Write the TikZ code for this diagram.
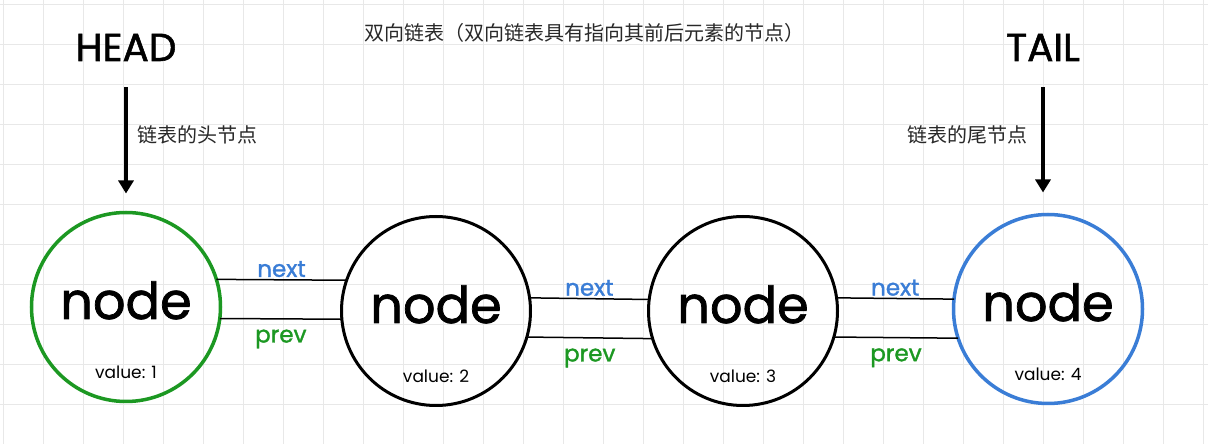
\documentclass[tikz,border=0pt]{standalone}
\usepackage{fontspec}
\setmainfont{Poppins}
\newfontfamily\roundfont{Poppins}[FakeBold=1.4]
\newfontfamily\cjk{Noto Sans CJK SC}
\usetikzlibrary{positioning, arrows.meta}
\definecolor{headgreen}{RGB}{28,152,34}
\definecolor{tailblue}{RGB}{58,125,214}
\definecolor{notegray}{RGB}{40,40,40}
\definecolor{gridgray}{RGB}{232,232,232}

\begin{document}
\begin{tikzpicture}[x=1pt, y=1pt, >={Triangle[width=15pt, length=13pt]}, on grid,
    listnode/.style={circle, draw, line width=3pt, minimum size=189pt, inner sep=0pt, outer sep=0pt},
    nodelbl/.style={font=\roundfont\fontsize{51}{51}\selectfont, anchor=base, inner sep=0pt},
    vallbl/.style={font=\fontsize{17}{17}\selectfont, anchor=base, inner sep=0pt},
    link/.style={line width=1.5pt},
    nexttxt/.style={text=tailblue, font=\roundfont\fontsize{23}{23}\selectfont, inner sep=0pt},
    prevtxt/.style={text=headgreen, font=\roundfont\fontsize{23}{23}\selectfont, inner sep=0pt},
    ptr/.style={->, line width=3.5pt},
    endlbl/.style={font=\roundfont\fontsize{39}{39}\selectfont, anchor=base, inner sep=0pt},
    notetxt/.style={text=notegray, font=\cjk\fontsize{20}{20}\selectfont, inner sep=0pt}]
  % paper and grid
  \fill[white] (0,0) rectangle (1208,444);
  \useasboundingbox (0,0) rectangle (1208,444);
  \draw[gridgray, line width=1pt, shift={(3,-1)}] (-3,1) grid[step=40] (1205,445);

  \node[notetxt] (title) at (584,411) {双向链表（双向链表具有指向其前后元素的节点）};

  % the four list nodes
  \node[listnode, draw=headgreen, line width=3.5pt] (n1) at (126,137) {};
  \node[listnode, right=310pt of n1, yshift=-4pt] (n2) {};
  \node[listnode, right=307pt of n2] (n3) {};
  \node[listnode, draw=tailblue, line width=3.5pt, right=305pt of n3, yshift=2pt] (n4) {};
  \foreach \i in {1,...,4} {
    \node[nodelbl] (t\i) at ([yshift=-12pt]n\i.center) {node};
    \node[vallbl] (v\i) at ([yshift=-72pt]n\i.center) {value: \i};
  }

  % next / prev links
  \draw[link] (n1.17) -- (n2.161) node[nexttxt, midway, above=2pt] (x1) {next};
  \draw[link] (n1.353) -- (n2.185) node[prevtxt, midway, below=10pt] (p1) {prev};
  \draw[link] (n2.8) -- (n3.173) node[nexttxt, midway, above=2pt] (x2) {next};
  \draw[link] (n2.344) -- (n3.197) node[prevtxt, midway, below=10pt] (p2) {prev};
  \draw[link] (n3.8) -- (n4.174) node[nexttxt, midway, above=2pt] (x3) {next};
  \draw[link] (n3.344) -- (n4.198) node[prevtxt, midway, below=10pt] (p3) {prev};

  % head and tail pointers
  \node[endlbl] (head) at (126,383) {HEAD};
  \node[endlbl] (tail) at (1043,383) {TAIL};
  \draw[ptr, shorten <=26pt, shorten >=19pt] (head.south) -- (head.south |- n1.north);
  \draw[ptr, shorten <=26pt, shorten >=22pt] (tail.south) -- (tail.south |- n4.north);
  \node[notetxt, anchor=west] (hnote) at (137,309) {链表的头节点};
  \node[notetxt, anchor=east] (tnote) at (1028,309) {链表的尾节点};
\end{tikzpicture}
\end{document}
